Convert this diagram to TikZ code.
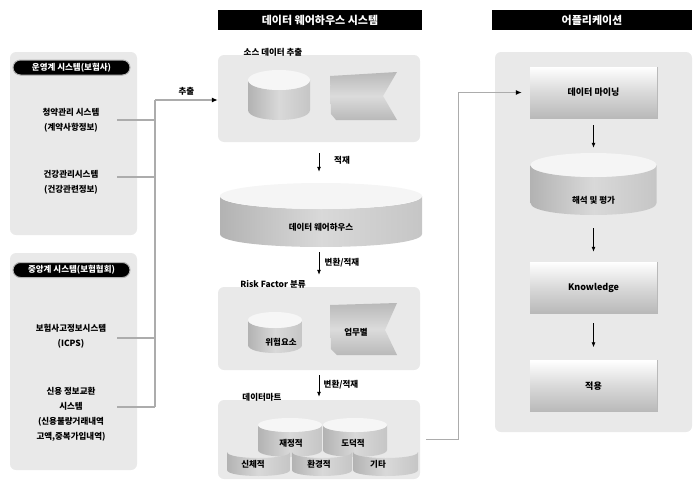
\documentclass[tikz,border=0pt]{standalone}
\usepackage{fontspec}
\setmainfont{Noto Sans CJK KR}
\usetikzlibrary{arrows.meta,calc}
\newcommand\drumshape[6]{%
  \path[#6] ({#1-#2},#3) -- ({#1-#2},#4) .. controls ({#1-#2},{#4+1.333*#5}) and ({#1+#2},{#4+1.333*#5}) .. ({#1+#2},#4) -- ({#1+#2},#3) .. controls ({#1+#2},{#3+1.333*#5}) and ({#1-#2},{#3+1.333*#5}) .. cycle;}
\tikzset{
  panel/.style={fill=gray!17, rounded corners=6pt, inner sep=0pt, draw=none},
  hdr/.style={fill=black, text=white, font=\fontsize{11}{11}\selectfont\bfseries, inner sep=0pt, minimum height=20pt},
  pill/.style={fill=black, draw=gray!60, line width=1pt, text=white, rounded corners=7.5pt, minimum width=117pt, minimum height=15pt, inner sep=0pt, font=\fontsize{8.5}{9}\selectfont\bfseries},
  item/.style={align=center, font=\fontsize{8.5}{15}\selectfont\bfseries, inner sep=0pt},
  lbl/.style={font=\fontsize{8.5}{10}\selectfont\bfseries, inner sep=0pt},
  ghost/.style={inner sep=0pt, draw=none},
  conn/.style={draw=gray!65, line width=1.2pt},
  conntip/.style={-{Latex[length=6pt,width=5pt,color=black]}},
  varr/.style={draw=black, line width=0.8pt, -{Latex[length=5pt,width=4pt]}},
  body/.style={left color=gray!60, right color=gray!45, middle color=gray!30},
  cuptop/.style={fill=gray!7},
  banner/.style={top color=gray!55, bottom color=gray!55, middle color=gray!28},
  appbox/.style={top color=white, bottom color=gray!55, middle color=gray!30, minimum width=127pt, minimum height=51pt, inner sep=0pt, font=\fontsize{9}{10}\selectfont\bfseries},
  edge/.style={draw=gray!55, line width=0.8pt}
}
\begin{document}
\begin{tikzpicture}[x=1pt,y=-1pt]
\useasboundingbox (0,0) rectangle (696,482);
% headers
\node[hdr, minimum width=204pt] (hdw) at (320,20) {데이터 웨어하우스 시스템};
\node[hdr, minimum width=200pt] (happ) at (592,20) {어플리케이션};
% left panels
\node[panel, minimum width=127pt, minimum height=183pt] (lp1) at (73.5,143.5) {};
\node[panel, minimum width=127pt, minimum height=217pt] (lp2) at (73.5,361.5) {};
\node[pill] (t1) at (71.5,67.5) {운영계 시스템(보험사)};
\node[pill] (t2) at (71.5,270) {중앙계 시스템(보험협회)};
\node[item] (i1) at (71,120) {청약관리 시스템\\(계약사항정보)};
\node[item] (i2) at (71,182) {건강관리시스템\\(건강관련정보)};
\node[item] (i3) at (71,336) {보험사고정보시스템\\(ICPS)};
\node[item] (i4) at (71,414.5) {신용 정보교환\\시스템\\(신용불량거래내역\\고액,중복가입내역)};
\coordinate (c1) at (117,120);
\coordinate (c2) at (117,177);
\coordinate (c3) at (117,338);
\coordinate (c4) at (117,407);
\coordinate (busT) at (155,100);
\coordinate (busB) at (155,407);
% middle panels
\node[panel, minimum width=202pt, minimum height=87pt] (src) at (319,98.5) {};
\node[panel, minimum width=202pt, minimum height=83pt] (rf) at (319,328.5) {};
\node[panel, minimum width=202pt, minimum height=79pt] (dm) at (319,439.5) {};
\node[lbl] (srcl) at (273,52) {소스 데이터 추출};
\node[lbl] (rfl) at (273,284) {Risk Factor 분류};
\node[lbl] (dml) at (262,397) {데이터마트};
% source shapes
\drumshape{279}{31}{80}{110}{10}{body}
\fill[cuptop] (279,80) ellipse [x radius=31pt, y radius=10pt];
\path[banner] (330,76) -- (397,72) -- (383,96) -- (397,120) -- (336,120) -- (331,114) -- cycle;
% data warehouse
\drumshape{321}{101}{196}{234}{13}{body}
\fill[gray!8] (321,196) ellipse [x radius=101pt, y radius=13pt];
\node[ghost, minimum width=202pt, minimum height=64pt] (dw) at (321,215) {};
\node[lbl] (dwt) at (321,227) {데이터 웨어하우스};
% risk factor shapes
\drumshape{275}{27}{320}{345}{8}{body}
\fill[cuptop] (275,320) ellipse [x radius=27pt, y radius=8pt];
\node[lbl] (rf1) at (281,342) {위험요소};
\path[banner] (330,305) -- (397,303) -- (385,330) -- (397,355) -- (337,355) -- (331,349) -- cycle;
\node[lbl] (rf2) at (356,332) {업무별};
% data mart cups
\drumshape{290}{32}{425}{450}{7}{body}
\fill[cuptop] (290,425) ellipse [x radius=32pt, y radius=7pt];
\drumshape{355}{32}{425}{450}{7}{body}
\fill[cuptop] (355,425) ellipse [x radius=32pt, y radius=7pt];
\node[lbl] (m1) at (291,443) {재정적};
\node[lbl] (m2) at (353,443) {도덕적};
\drumshape{258.5}{31.5}{452}{470}{6}{body}
\drumshape{322}{30}{452}{470}{6}{body}
\drumshape{385.5}{32.5}{452}{470}{6}{body}
\node[lbl] (m3) at (253,464) {신체적};
\node[lbl] (m4) at (319,464) {환경적};
\node[lbl] (m5) at (378,464) {기타};
% application
\node[panel, minimum width=197pt, minimum height=380pt] (app) at (593.5,242) {};
\node[appbox] (dmine) at (593.5,92.5) {데이터 마이닝};
\drumshape{593.5}{63}{165}{203}{12}{body}
\fill[gray!8] (593.5,165) ellipse [x radius=63pt, y radius=12pt];
\node[ghost, minimum width=126pt, minimum height=62pt] (hp) at (593.5,184) {};
\node[lbl] (hpt) at (593.5,200) {해석 및 평가};
\node[appbox] (know) at (593.5,287.5) {Knowledge};
\node[appbox] (apply) at (593.5,386) {적용};
\foreach \n in {dmine,know,apply}{\draw[edge] (\n.north east) -- (\n.south east) -- (\n.south west);}
% connectors left
\draw[conn] (busT) -- (busB);
\draw[conn] (c1) -- (c1 -| busT);
\draw[conn] (c2) -- (c2 -| busT);
\draw[conn] (c3) -- (c3 -| busT);
\draw[conn] (c4) -- (c4 -| busT);
\draw[conn, conntip] (busT) -- node[lbl, above=4pt] {추출} (busT -| src.west);
% vertical arrows middle
\draw[varr, shorten <=11pt, shorten >=11pt] (src.south) -- (src.south |- dw.north);
\node[lbl] (a1) at (342,160) {적재};
\draw[varr, shorten <=5pt, shorten >=12pt] (src.south |- dw.south) -- (src.south |- rf.north);
\node[lbl] (a2) at (342,263) {변환/적재};
\draw[varr, shorten <=5pt, shorten >=3pt] (rf.south) -- (dm.north);
\node[lbl] (a3) at (341,385) {변환/적재};
% connector to application
\draw[conn, conntip, shorten <=6pt, shorten >=8pt] (dm.east) -- ++(38,0) |- (dmine.west);
% app arrows
\draw[varr, shorten <=7pt, shorten >=5pt] (dmine.south) -- (hp.north);
\draw[varr, shorten <=13pt, shorten >=10pt] (hp.south) -- (know.north);
\draw[varr, shorten <=10pt, shorten >=13pt] (know.south) -- (apply.north);
\end{tikzpicture}
\end{document}
